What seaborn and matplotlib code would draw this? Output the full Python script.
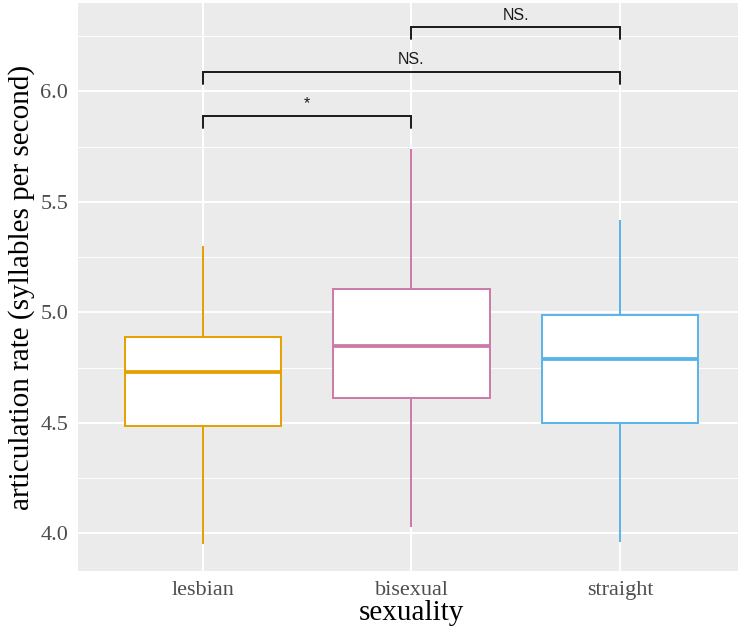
import numpy as np
import pandas as pd
import matplotlib
matplotlib.use("Agg")
import matplotlib.pyplot as plt
from matplotlib.ticker import MultipleLocator
import seaborn as sns

# Five-number summaries (min, Q1, median, Q3, max)
groups = ["lesbian", "bisexual", "straight"]
lesbian_vals = [3.95, 4.485, 4.73, 4.89, 5.30]
bisexual_vals = [4.03, 4.615, 4.85, 5.105, 5.74]
straight_vals = [3.96, 4.50, 4.79, 4.99, 5.42]
colors = ["#E69F00", "#CC79A7", "#56B4E9"]

# Significance brackets
pair_left = ["lesbian", "lesbian", "bisexual"]
pair_right = ["bisexual", "straight", "straight"]
pair_y = [5.89, 6.09, 6.29]
pair_labels = ["*", "NS.", "NS."]

df = pd.DataFrame({
    "sexuality": np.repeat(groups, 5),
    "rate": lesbian_vals + bisexual_vals + straight_vals,
})

sns.set_theme(style="darkgrid", rc={
    "axes.facecolor": "#EBEBEB",
    "grid.color": "white",
    "xtick.major.size": 4,
    "ytick.major.size": 4,
    "xtick.major.width": 1.0,
    "ytick.major.width": 1.0,
    "xtick.color": "#333333",
    "ytick.color": "#333333",
    "axes.edgecolor": "#EBEBEB",
})
plt.rcParams["font.family"] = ["Liberation Serif", "DejaVu Serif"]

fig = plt.figure(figsize=(7.38, 6.3), dpi=100)
ax = fig.add_axes([78 / 738, 1 - 571 / 630, (745 - 78) / 738, (571 - 3) / 630])

for g, c in zip(groups, colors):
    sns.boxplot(data=df[df["sexuality"] == g], x="sexuality", y="rate", order=groups,
                color=c, linecolor=c, width=0.75, whis=(0, 100), showcaps=False,
                showfliers=False, linewidth=1.4,
                boxprops={"facecolor": "white", "zorder": 3},
                medianprops={"linewidth": 2.7, "zorder": 4},
                whiskerprops={"zorder": 2}, ax=ax)

for a, b, y, lab in zip(pair_left, pair_right, pair_y, pair_labels):
    x1, x2 = groups.index(a), groups.index(b)
    ax.plot([x1, x1, x2, x2], [y - 0.055, y, y, y - 0.055], color="#1a1a1a",
            lw=1.4, solid_joinstyle="miter", zorder=5)
    ax.text((x1 + x2) / 2, y + 0.02, lab, ha="center", va="bottom",
            fontsize=11.5, family=["Liberation Sans", "DejaVu Sans"], color="#1a1a1a")

ax.set_xlim(-0.6, 2.6)
ax.set_ylim(3.83, 6.40)
ax.yaxis.set_major_locator(MultipleLocator(0.5))
ax.yaxis.set_minor_locator(MultipleLocator(0.25))
ax.grid(which="major", color="white", linewidth=1.4)
ax.grid(which="minor", axis="y", color="white", linewidth=0.7)
ax.tick_params(which="minor", length=0)
ax.tick_params(axis="both", labelsize=16, labelcolor="#4D4D4D", pad=3)
ax.set_yticks([4.0, 4.5, 5.0, 5.5, 6.0])
ax.set_yticklabels(["4.0", "4.5", "5.0", "5.5", "6.0"])

ax.set_xlabel("sexuality", fontsize=21, color="black", labelpad=0)
ax.set_ylabel("articulation rate (syllables per second)", fontsize=21,
              color="black", labelpad=4)
for s in ax.spines.values():
    s.set_visible(False)

fig.savefig("out.png", dpi=100)
